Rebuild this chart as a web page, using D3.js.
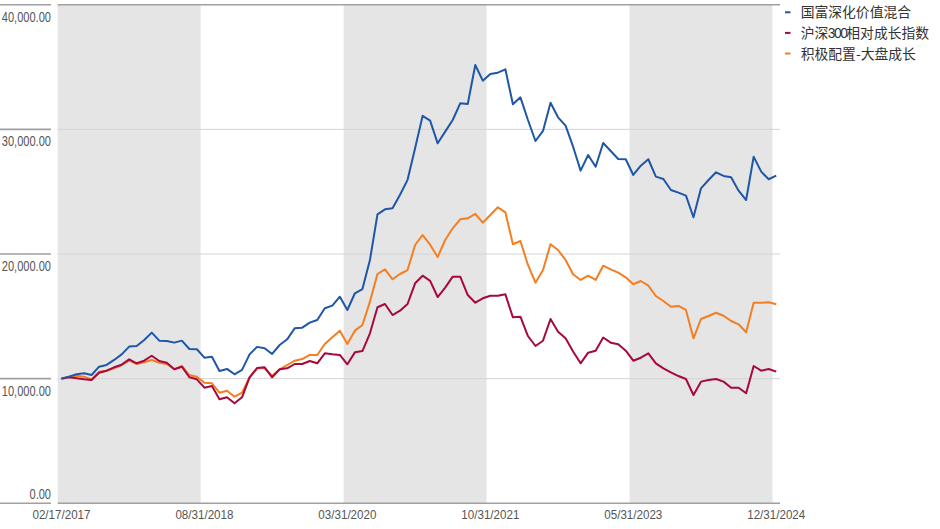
<!DOCTYPE html>
<html><head><meta charset="utf-8">
<script src="https://cdn.jsdelivr.net/npm/d3@7/dist/d3.min.js"></script>
<style>
html,body{margin:0;padding:0;background:#fff;}
svg{display:block;}
</style></head>
<body><svg id="chart" width="940" height="529"></svg>
<script>
// ---- data ----
const seriesNames = ["国富深化价值混合", "沪深300相对成长指数", "积极配置-大盘成长"];
const seriesColors = ["#1F56A8", "#A6093D", "#F47E22"];

const fundValues = [10000,10160,10350,10430,10290,10960,11100,11500,11950,12570,12620,13100,13690,13050,13020,12890,13050,12380,12360,11680,11760,10620,10780,10350,10700,11950,12550,12435,11980,12700,13155,14040,14090,14490,14705,15645,15855,16575,15510,16850,17190,19520,23185,23585,23665,24750,25950,28480,31080,30700,28880,29815,30750,32090,32035,35165,33905,34440,34545,34815,32010,32570,30750,29065,29870,32140,30965,30295,28610,26685,27945,27005,28900,28265,27620,27600,26340,27085,27600,26205,26020,25135,24920,24680,22945,25270,25935,26555,26260,26150,25080,24330,27810,26605,25995,26280];
const indexValues = [10000,10110,10025,9945,9890,10480,10640,10910,11120,11550,11230,11440,11840,11415,11280,10750,10960,10110,9945,9275,9410,8345,8505,8020,8505,10110,10850,10910,10110,10750,10830,11175,11175,11415,11230,12030,11950,11900,11150,12110,12215,13640,15725,15990,15105,15450,15990,17650,18260,17850,16550,17300,18180,18180,16710,16095,16445,16655,16655,16765,14920,14970,13420,12620,13045,14785,13765,13235,12180,11230,12085,12245,13300,12885,12755,12245,11440,11680,12030,11230,10830,10510,10210,9970,8690,9760,9890,9970,9760,9275,9275,8825,11015,10640,10775,10560];
const categoryValues = [10000,10157,10240,10157,9945,10560,10640,10830,11095,11440,11175,11310,11500,11280,11175,10750,11015,10290,10157,9675,9625,8875,9035,8555,8875,10110,10830,10830,10210,10750,11095,11440,11575,11900,11900,12780,13315,13850,12780,13850,14305,16175,18395,18770,17970,18395,18715,20720,21525,20750,19760,21125,22060,22785,22865,23210,22510,23130,23745,23345,20780,21045,19120,17700,18715,20780,20320,19520,18370,17915,18260,17915,19060,18770,18500,18130,17570,17835,17460,16630,16230,15770,15830,15510,13235,14785,15025,15290,15050,14625,14360,13720,16095,16095,16125,15965];

// categories: monthly observations (17th of each month), Feb 2017 .. Jan 2025
const categories = d3.timeMonth.range(new Date(2017,1,1), new Date(2025,1,1)).map(d => d3.timeFormat("%Y-%m-17")(d));
const tickIndex = [0, 19, 38, 57, 76, 95];
const tickLabels = ["02/17/2017", "08/31/2018", "03/31/2020", "10/31/2021", "05/31/2023", "12/31/2024"];
const yTicks = [0, 10000, 20000, 30000, 40000];

// ---- layout ----
const L = 57.7, R = 780, T = 4.7, B = 503.3;
const svg = d3.select("#chart");
const x = d3.scaleBand().domain(categories).range([L, R]).padding(0);
const y = d3.scaleLinear().domain([0, 40000]).range([B, T]);
const xc = i => x(categories[i]) + x.bandwidth() / 2;
const latin = "'Liberation Sans', Arial, sans-serif";
const cjk = "'Noto Sans CJK SC', sans-serif";

// shaded alternating bands (groups of 19 categories)
const bandStarts = [0, 38, 76];
svg.append("g").selectAll("rect").data(bandStarts).join("rect")
  .attr("x", i => x(categories[i]))
  .attr("width", i => x(categories[i + 18]) + x.bandwidth() - x(categories[i]))
  .attr("y", T).attr("height", B - T)
  .attr("fill", "#e5e5e5");

// gridlines
svg.append("g").selectAll("line").data(yTicks.filter(v => v > 0 && v < 40000)).join("line")
  .attr("x1", L).attr("x2", R).attr("y1", d => y(d)).attr("y2", d => y(d))
  .attr("stroke", "#d4d4d4").attr("stroke-width", 1);

// top and bottom borders
[40000, 0].forEach(v => {
  svg.append("line").attr("x1", L).attr("x2", R).attr("y1", y(v)).attr("y2", y(v))
    .attr("stroke", "#a0a0a0").attr("stroke-width", 1.6);
});

// y tick stubs and labels
const yg = svg.append("g");
yg.selectAll("line").data(yTicks).join("line")
  .attr("x1", 0).attr("x2", 51).attr("y1", d => y(d)).attr("y2", d => y(d))
  .attr("stroke", "#a0a0a0").attr("stroke-width", 1.6);
yg.selectAll("text").data(yTicks).join("text")
  .attr("transform", d => `translate(51,${d === 0 ? y(d) - 4.3 : y(d) + 17}) scale(0.79,1)`)
  .attr("text-anchor", "end").attr("font-family", latin).attr("font-size", 14)
  .attr("fill", "#555").text(d => d3.format(",.2f")(d));

// x tick labels
svg.append("g").selectAll("text").data(tickIndex).join("text")
  .attr("transform", i => `translate(${xc(i)},518.5) scale(0.86,1)`)
  .attr("text-anchor", "middle")
  .attr("font-family", latin).attr("font-size", 13.5).attr("fill", "#555")
  .text((d, k) => tickLabels[k]);

// lines
const allSeries = [fundValues, indexValues, categoryValues];
const line = d3.line().x((d, i) => xc(i)).y(d => y(d));
[2, 1, 0].forEach(s => {
  svg.append("path").datum(allSeries[s]).attr("d", line)
    .attr("fill", "none").attr("stroke", seriesColors[s]).attr("stroke-width", 2)
    .attr("stroke-linejoin", "round");
});

// legend
const lg = svg.append("g");
seriesNames.forEach((n, k) => {
  const yy = 12.3 + k * 20.6;
  lg.append("line").attr("x1", 785).attr("x2", 790.5).attr("y1", yy).attr("y2", yy)
    .attr("stroke", seriesColors[k]).attr("stroke-width", 2);
  const t = lg.append("text").attr("x", 800.7).attr("y", yy + 5).attr("font-family", cjk)
    .attr("font-size", 13.8).attr("fill", "#333");
  n.match(/[\x00-\x7F]+|[^\x00-\x7F]+/g).forEach(part => {
    const ts = t.append("tspan").text(part);
    if (/[0-9]/.test(part)) ts.attr("letter-spacing", -1.5).attr("font-family", latin).attr("dx", -0.5);
  });
});
</script></body></html>
